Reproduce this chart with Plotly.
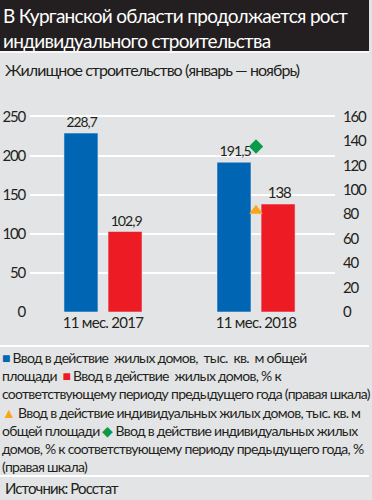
import plotly.graph_objects as go

# ---- data ----
categories = ["11 мес. 2017", "11 мес. 2018"]
housing_area = [228.7, 191.5]          # тыс. кв. м общей площади
housing_pct = [102.9, 138]             # % к соответствующему периоду
indiv_area = [None, 129.5]             # тыс. кв. м (индивидуальные)
indiv_pct = [None, 135.4]              # % (правая шкала)
left_ticks = [0, 50, 100, 150, 200, 250]
right_ticks = [0, 20, 40, 60, 80, 100, 120, 140, 160]

title_text = "В Курганской области продолжается рост<br>индивидуального строительства"
subtitle_text = "Жилищное строительство (январь — ноябрь)"
source_text = "Источник: Росстат"

BLUE = "#0066b3"
RED = "#ed1c24"
ORANGE = "#f9a61a"
GREEN = "#0a9a4a"
DARK = "#231f20"
BG = "#e3e4e5"
FONT = "Lato, Roboto, sans-serif"

W, H = 372, 500
L, R, T, B = 30, 335, 100, 312


def px(x):
    return (x - L) / (R - L)


def py(y):
    return (B - y) / (B - T)


def tight(s, ls):
    return f"<span style='letter-spacing:{ls}px'>{s}</span>"


def fmt(v):
    return f"{v:g}".replace(".", ",")


yr = 271.0

fig = go.Figure()
fig.add_trace(go.Bar(
    x=categories, y=housing_area, marker_color=BLUE, width=0.222, offset=-0.255,
    text=[tight("\u00a0" + fmt(v), -1.1) for v in housing_area], textposition="outside",
    textfont=dict(size=15, color=DARK, family=FONT), cliponaxis=False, showlegend=False,
    hoverinfo="skip",
))
fig.add_trace(go.Bar(
    x=categories, y=housing_pct, marker_color=RED, width=0.222, offset=0.033,
    text=[tight("\u00a0" + fmt(v), -1.1) for v in housing_pct], textposition="outside",
    textfont=dict(size=15, color=DARK, family=FONT), cliponaxis=False, showlegend=False,
    hoverinfo="skip",
))
fig.add_trace(go.Scatter(
    x=categories, y=indiv_area, mode="markers",
    marker=dict(symbol="triangle-up", size=12, color=ORANGE), showlegend=False,
))
fig.add_trace(go.Scatter(
    x=categories, y=indiv_pct, yaxis="y2", mode="markers",
    marker=dict(symbol="diamond", size=11, color=GREEN), showlegend=False,
))

legend_lines = [
    f"<span style='color:{BLUE}'>■</span> Ввод в действие\u00a0 жилых домов,\u00a0 тыс.\u00a0 кв.\u00a0 м общей",
    f"площади\u00a0 <span style='color:{RED}'>■</span> Ввод в действие\u00a0 жилых домов, % к",
    "соответствующему периоду предыдущего года (правая шкала)",
    f"<span style='color:{ORANGE}'>▲</span> Ввод в действие индивидуальных жилых домов, тыс. кв. м",
    f"общей площади <span style='color:{GREEN}'>◆</span> Ввод в действие индивидуальных жилых",
    "домов, % к соответствующему периоду предыдущего года, %",
    "(правая шкала)",
]
legend_html = "<br>".join(tight(s, -0.72) for s in legend_lines)

title_lines = title_text.split("<br>")

annotations = [
    dict(x=px(1), y=py(2), xref="paper", yref="paper", xanchor="left", yanchor="top",
         align="left", showarrow=False, text="<br>".join(tight(s, -0.7) for s in title_lines),
         font=dict(size=19, color="white", family=FONT)),
    dict(x=px(3), y=py(69), xref="paper", yref="paper", xanchor="left", yanchor="middle",
         align="left", showarrow=False, text=tight(subtitle_text, -0.95),
         font=dict(size=16, color=DARK, family=FONT)),
    dict(x=px(0), y=py(347), xref="paper", yref="paper", xanchor="left", yanchor="top",
         align="left", showarrow=False, text=legend_html,
         font=dict(size=14, color=DARK, family=FONT)),
    dict(x=px(3), y=py(488), xref="paper", yref="paper", xanchor="left", yanchor="middle",
         align="left", showarrow=False, text=tight(source_text, -0.9),
         font=dict(size=15, color=DARK, family=FONT)),
]

shapes = [
    dict(type="rect", xref="paper", yref="paper", x0=px(0), x1=px(369), y0=py(51), y1=py(0),
         fillcolor=DARK, line=dict(width=0), layer="below"),
    dict(type="line", xref="paper", yref="paper", x0=px(0), x1=px(369), y0=py(52), y1=py(52),
         line=dict(color="white", width=1.5)),
    dict(type="line", xref="paper", yref="paper", x0=px(0), x1=px(369), y0=py(346), y1=py(346),
         line=dict(color="white", width=2)),
    dict(type="line", xref="paper", yref="paper", x0=px(0), x1=px(369), y0=py(476), y1=py(476),
         line=dict(color="white", width=2)),
]

fig.update_layout(
    width=W, height=H,
    margin=dict(l=L, r=W - R, t=T, b=H - B, pad=0, autoexpand=False),
    paper_bgcolor=BG, plot_bgcolor=BG,
    font=dict(family=FONT, color=DARK),
    barmode="overlay",
    xaxis=dict(type="category", categoryorder="array", categoryarray=categories,
               range=[-0.477, 1.516], showgrid=False, zeroline=False, showline=False,
               ticks="", tickmode="array", tickvals=categories,
               ticktext=[tight(c, -0.7) for c in categories], automargin=False,
               tickfont=dict(size=15, color=DARK, family=FONT)),
    yaxis=dict(range=[0, yr], tickmode="array", tickvals=left_ticks,
               ticktext=[tight(str(t), -1.2) for t in left_ticks],
               showgrid=True, gridcolor="white", automargin=False,
               gridwidth=1.5, zeroline=False, showline=False, ticks="",
               ticklabelstandoff=4, tickfont=dict(size=15, color=DARK, family=FONT)),
    yaxis2=dict(range=[0, yr * 0.64], tickmode="array", tickvals=right_ticks,
                ticktext=[tight(str(t), -1.2) for t in right_ticks],
                overlaying="y", side="right", automargin=False,
                showgrid=False, zeroline=False, showline=False, ticks="",
                ticklabelstandoff=7, tickfont=dict(size=15, color=DARK, family=FONT)),
    annotations=annotations,
    shapes=shapes,
)

fig.write_html("out.html", config={"displayModeBar": False},
               post_script="document.body.style.margin='0px';")
